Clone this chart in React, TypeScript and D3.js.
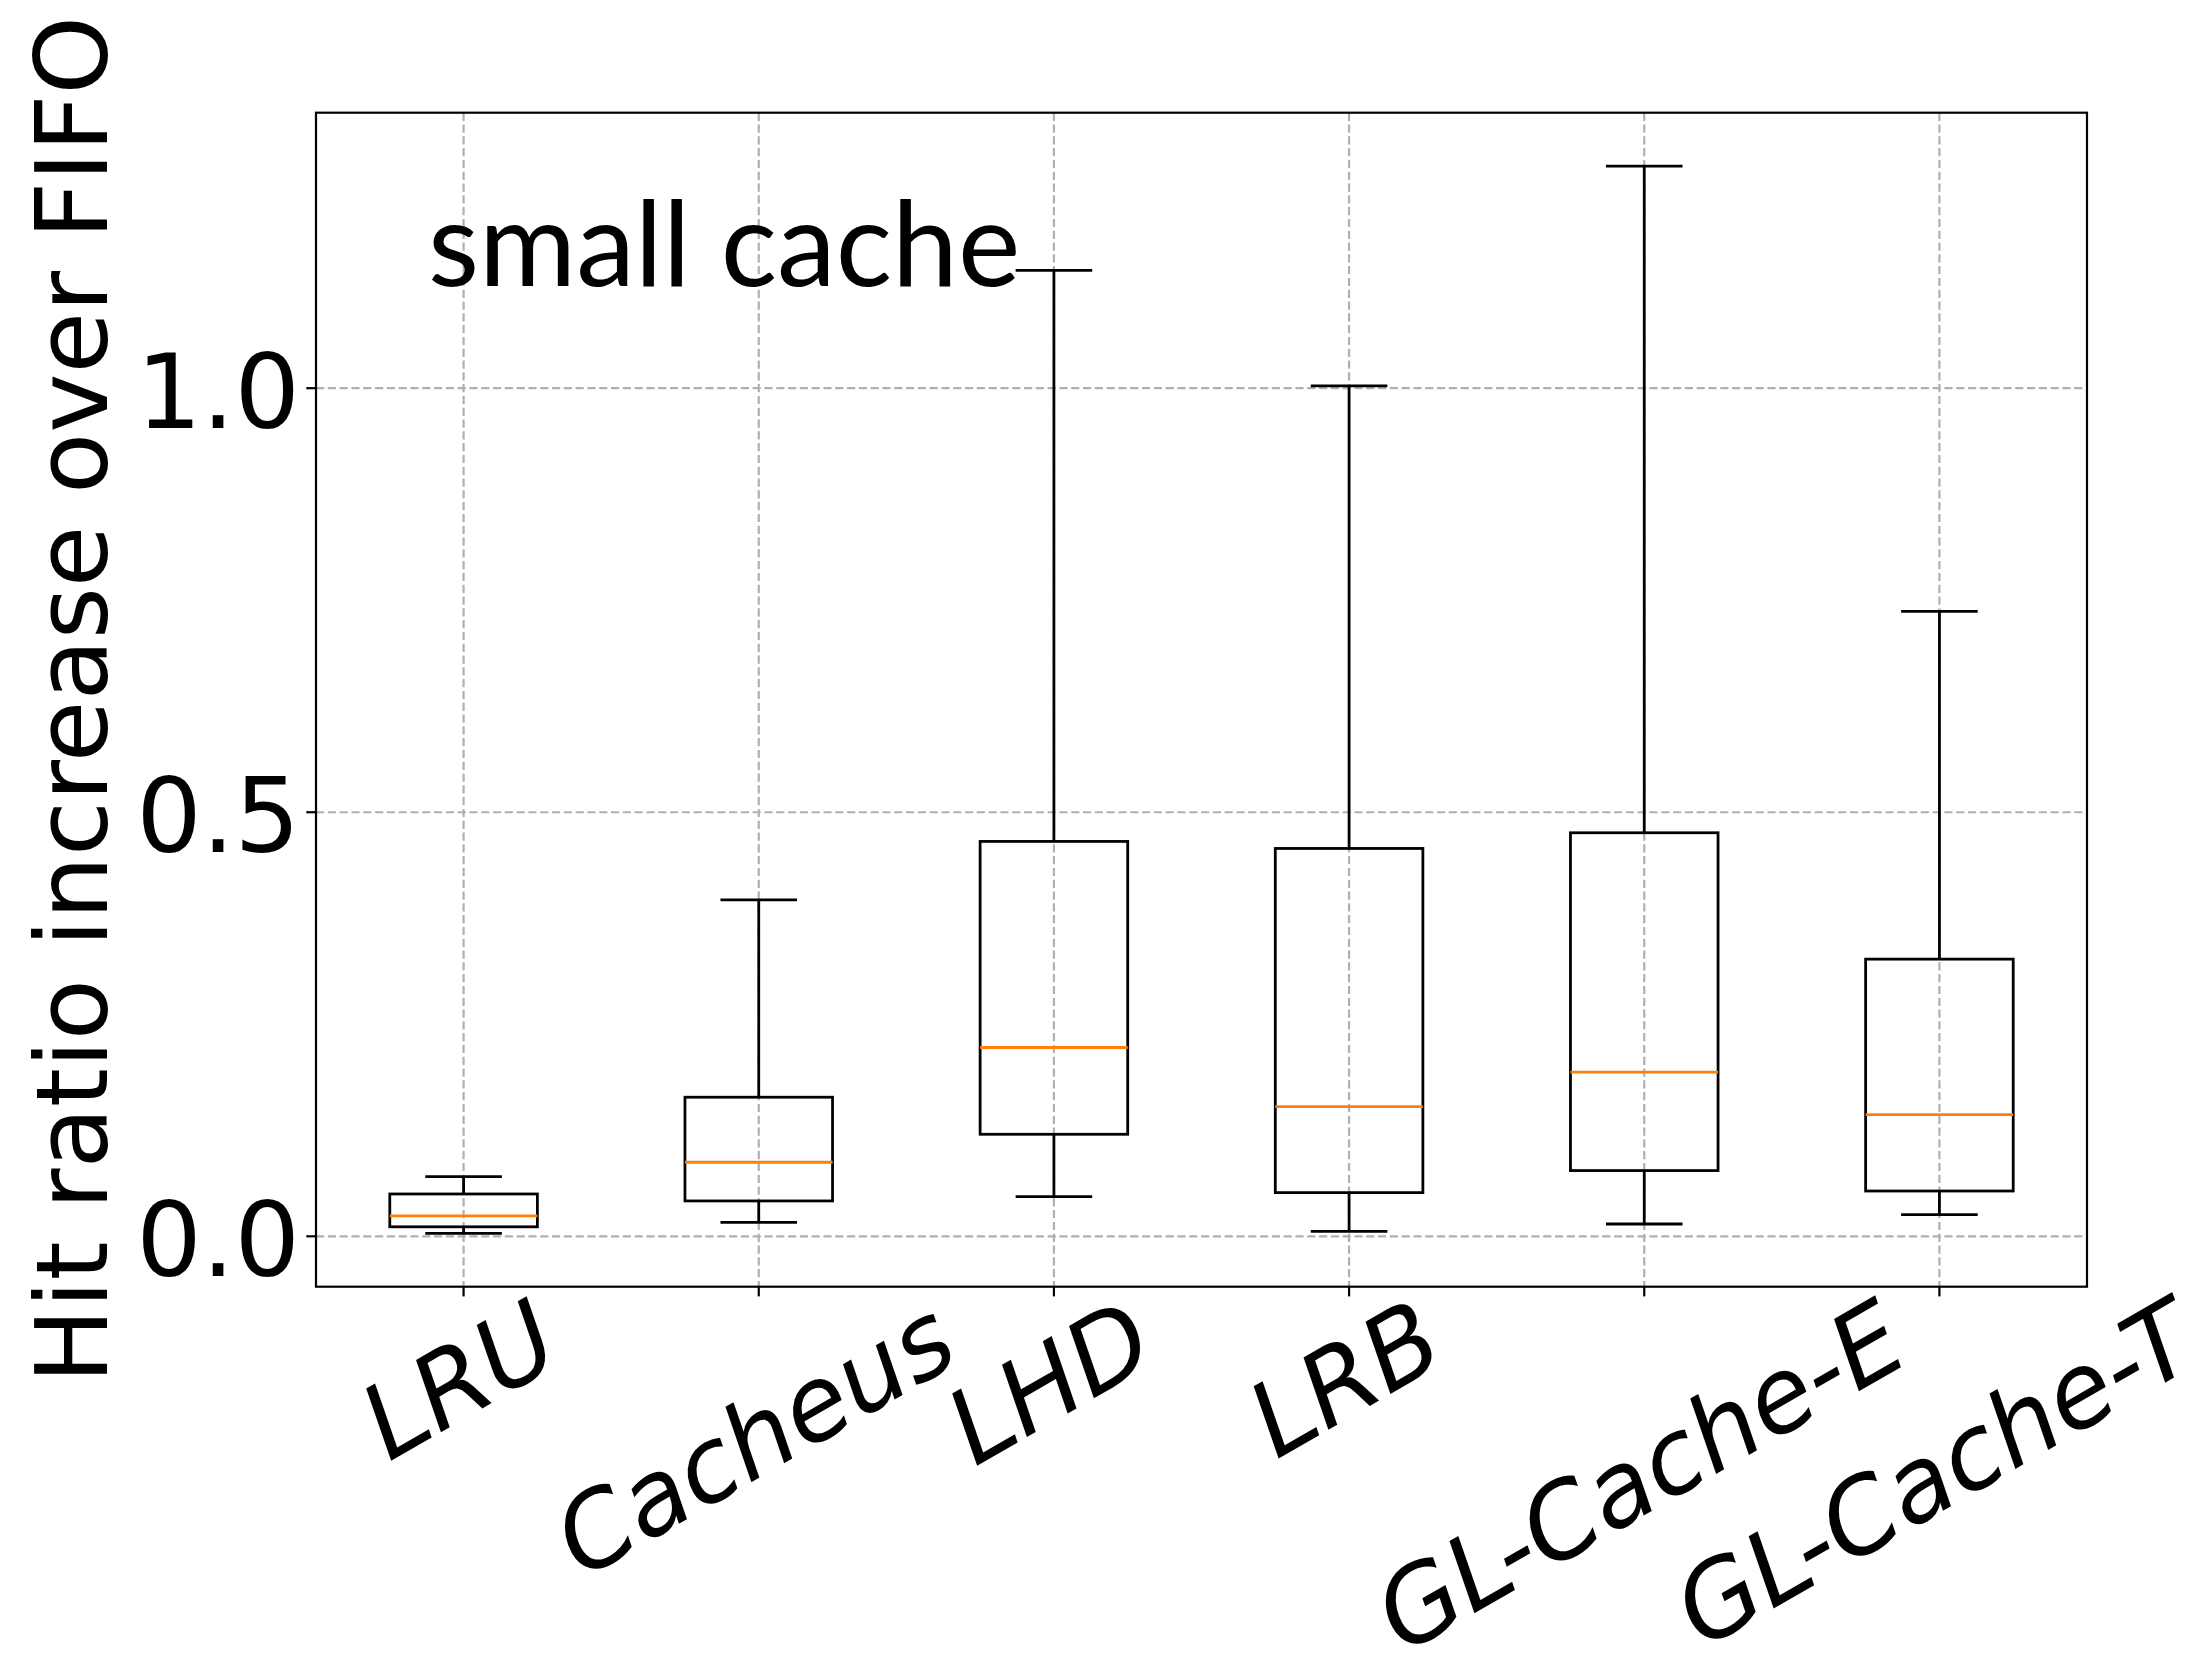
import { useEffect, useRef } from 'react';
import * as d3 from 'd3';

// policies on the x axis
const names = ['LRU', 'Cacheus', 'LHD', 'LRB', 'GL-Cache-E', 'GL-Cache-T'];
// box plot stats
const whiskerLow = [0.0035, 0.0165, 0.0468, 0.0059, 0.0145, 0.0256];
const q1 = [0.0112, 0.0417, 0.1203, 0.0515, 0.0775, 0.0534];
const median = [0.024, 0.0873, 0.2226, 0.153, 0.1935, 0.1435];
const q3 = [0.0499, 0.164, 0.4656, 0.4573, 0.4758, 0.3268];
const whiskerHigh = [0.0704, 0.3967, 1.1388, 1.0027, 1.2619, 0.7369];
const yTicks = [0, 0.5, 1.0];
const yTickLabels = ['0.0', '0.5', '1.0'];

const W = 2196;
const H = 1665;

export default function App() {
  const svgRef = useRef<SVGSVGElement>(null);

  useEffect(() => {
    document.body.style.margin = '0';
    if (!svgRef.current) return;

    const left = 316;
    const right = 2087;
    const top = 112.7;
    const bottom = 1286.7;
    const lw = 2.78; // 1pt at 200dpi
    const spineW = 2.2;
    const tickLen = 9.7;

    const lo = d3.min(whiskerLow)!;
    const hi = d3.max(whiskerHigh)!;
    const pad = (hi - lo) * 0.05;

    const x = d3.scaleLinear().domain([0.5, names.length + 0.5]).range([left, right]);
    const y = d3.scaleLinear().domain([lo - pad, hi + pad]).range([bottom, top]);

    const svg = d3.select(svgRef.current);
    svg.selectAll('*').remove();

    const positions = names.map((_, i) => i + 1);
    const boxW = x(1.25) - x(0.75);
    const capW = x(1.125) - x(0.875);

    // grid
    const grid = svg.append('g')
      .attr('stroke', '#b0b0b0')
      .attr('stroke-width', 2.2)
      .attr('stroke-dasharray', '8.2,3.6');
    grid.selectAll('.gx').data(positions).enter().append('line')
      .attr('x1', (d) => x(d)).attr('x2', (d) => x(d))
      .attr('y1', top).attr('y2', bottom);
    grid.selectAll('.gy').data(yTicks).enter().append('line')
      .attr('x1', left).attr('x2', right)
      .attr('y1', (d) => y(d)).attr('y2', (d) => y(d));

    // boxes
    const boxes = svg.append('g').selectAll('g').data(names).enter().append('g');
    boxes.append('line')
      .attr('x1', (_, i) => x(i + 1)).attr('x2', (_, i) => x(i + 1))
      .attr('y1', (_, i) => y(q3[i])).attr('y2', (_, i) => y(whiskerHigh[i]))
      .attr('stroke', '#000').attr('stroke-width', lw);
    boxes.append('line')
      .attr('x1', (_, i) => x(i + 1)).attr('x2', (_, i) => x(i + 1))
      .attr('y1', (_, i) => y(q1[i])).attr('y2', (_, i) => y(whiskerLow[i]))
      .attr('stroke', '#000').attr('stroke-width', lw);
    [whiskerHigh, whiskerLow].forEach((arr) => {
      boxes.append('line')
        .attr('x1', (_, i) => x(i + 1) - capW / 2).attr('x2', (_, i) => x(i + 1) + capW / 2)
        .attr('y1', (_, i) => y(arr[i])).attr('y2', (_, i) => y(arr[i]))
        .attr('stroke', '#000').attr('stroke-width', lw).attr('stroke-linecap', 'square');
    });
    boxes.append('rect')
      .attr('x', (_, i) => x(i + 1) - boxW / 2)
      .attr('width', boxW)
      .attr('y', (_, i) => y(q3[i]))
      .attr('height', (_, i) => y(q1[i]) - y(q3[i]))
      .attr('fill', 'none').attr('stroke', '#000').attr('stroke-width', lw);
    boxes.append('line')
      .attr('x1', (_, i) => x(i + 1) - boxW / 2).attr('x2', (_, i) => x(i + 1) + boxW / 2)
      .attr('y1', (_, i) => y(median[i])).attr('y2', (_, i) => y(median[i]))
      .attr('stroke', '#ff7f0e').attr('stroke-width', lw);

    // spines
    svg.append('rect')
      .attr('x', left).attr('y', top)
      .attr('width', right - left).attr('height', bottom - top)
      .attr('fill', 'none').attr('stroke', '#000').attr('stroke-width', spineW);

    // ticks
    svg.append('g').selectAll('line').data(yTicks).enter().append('line')
      .attr('x1', left - tickLen).attr('x2', left)
      .attr('y1', (d) => y(d)).attr('y2', (d) => y(d))
      .attr('stroke', '#000').attr('stroke-width', spineW);
    svg.append('g').selectAll('line').data(positions).enter().append('line')
      .attr('x1', (d) => x(d)).attr('x2', (d) => x(d))
      .attr('y1', bottom).attr('y2', bottom + tickLen)
      .attr('stroke', '#000').attr('stroke-width', spineW);

    // y tick labels
    svg.append('g').selectAll('text').data(yTicks).enter().append('text')
      .attr('x', 300)
      .attr('y', (d) => y(d) + 40)
      .attr('text-anchor', 'end')
      .attr('font-family', 'DejaVu Sans')
      .attr('font-size', 103)
      .text((_, i) => yTickLabels[i]);

    // x tick labels, rotated 30deg, bbox centered under the tick
    const fs = 103;
    const lineH = 0.99 * fs;
    const labelTop = bottom + tickLen - 4;
    const rad = Math.PI / 6;
    svg.append('g').selectAll('text').data(names).enter().append('text')
      .attr('text-anchor', 'middle')
      .attr('font-family', 'DejaVu Sans')
      .attr('font-style', 'oblique')
      .attr('font-size', fs)
      .attr('y', 0.265 * fs)
      .text((d) => d)
      .each(function (_, i) {
        const el = this as SVGTextElement;
        const tw = el.getComputedTextLength();
        const bh = tw * Math.sin(rad) + lineH * Math.cos(rad);
        d3.select(el).attr('transform',
          `translate(${x(i + 1)}, ${labelTop + bh / 2}) rotate(-30)`);
      });

    // y label
    svg.append('text')
      .attr('transform', `translate(107, ${(top + bottom) / 2}) rotate(-90)`)
      .attr('text-anchor', 'middle')
      .attr('font-family', 'DejaVu Sans')
      .attr('font-size', 100)
      .text('Hit ratio increase over FIFO');

    // annotation
    svg.append('text')
      .attr('x', 428)
      .attr('y', 286)
      .attr('font-family', 'Lato')
      .attr('font-size', 118)
      .text('small cache');
  }, []);

  return (
    <svg
      ref={svgRef}
      width={W}
      height={H}
      style={{ display: 'block', background: '#fff' }}
      role="img"
      aria-label="Hit ratio increase over FIFO box plot"
    />
  );
}
